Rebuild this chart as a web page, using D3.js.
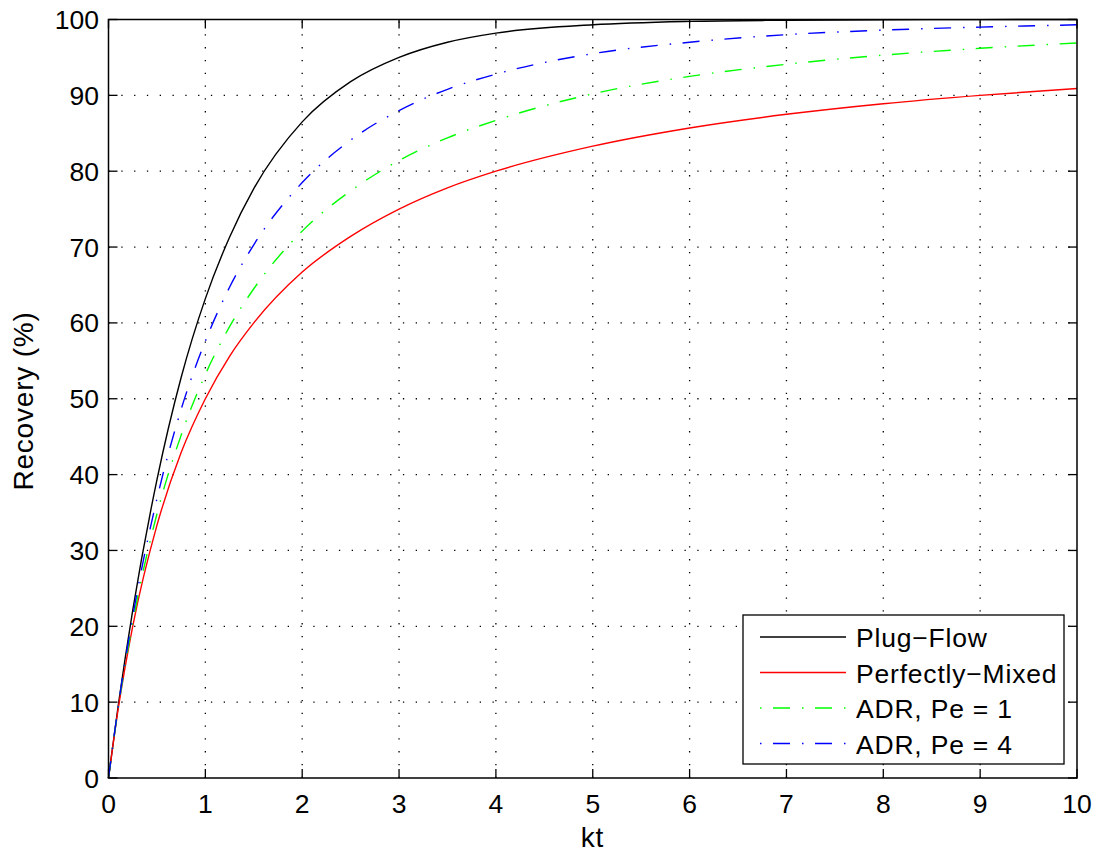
<!DOCTYPE html>
<html>
<head>
<meta charset="utf-8">
<script src="https://cdn.jsdelivr.net/npm/d3@7"></script>
<style>
  body { margin: 0; background: #fff; }
  svg { font-family: "Liberation Sans", Arial, sans-serif; }
  .tick-label { font-size: 26.5px; fill: #000; }
  .axis-label { font-size: 28px; letter-spacing: 0.8px; fill: #000; }
  .legend-label { font-size: 26.5px; letter-spacing: 0.8px; fill: #000; }
</style>
</head>
<body>
<div id="app"></div>
<script>
const kt = [0, 0.1, 0.25, 0.5, 0.75, 1, 1.25, 1.5, 2, 2.5, 3, 3.5, 4, 5, 6, 7, 8, 9, 10]
const plugFlow = [0, 9.5, 22.1, 39.3, 52.8, 63.2, 71.3, 77.7, 86.5, 91.8, 95.0, 97.0, 98.2, 99.3, 99.75, 99.9, 99.97, 99.99, 100]
const perfectlyMixed = [0, 9.1, 20, 33.3, 42.9, 50, 55.6, 60, 66.7, 71.4, 75, 77.8, 80, 83.3, 85.7, 87.5, 88.9, 90, 90.9]
const adrPe1 = [0, 9.2, 20.5, 34.8, 45.2, 53.2, 59.5, 64.5, 72.1, 77.4, 81.4, 84.4, 86.7, 90.2, 92.5, 94.1, 95.3, 96.2, 96.9]
const adrPe4 = [0, 9.4, 21.3, 36.8, 48.6, 57.6, 64.7, 70.3, 78.5, 84.1, 88.0, 90.8, 92.8, 95.5, 97.0, 98.0, 98.6, 99.0, 99.3]
const xTicks = [0, 1, 2, 3, 4, 5, 6, 7, 8, 9, 10]
const yTicks = [0, 10, 20, 30, 40, 50, 60, 70, 80, 90, 100]

const series = [
  { name: 'Plug\u2212Flow', values: plugFlow, color: '#000000', dash: null },
  { name: 'Perfectly\u2212Mixed', values: perfectlyMixed, color: '#ff0000', dash: null },
  { name: 'ADR, Pe = 1', values: adrPe1, color: '#00ff00', dash: '17,12,1.5,11.5' },
  { name: 'ADR, Pe = 4', values: adrPe4, color: '#0000ff', dash: '17,12,1.5,11.5' },
]

const W = 1100, H = 855
const plotLeft = 108.5, plotRight = 1077, plotTop = 19.5, plotBottom = 778

const svg = d3.select('#app').append('svg').attr('width', W).attr('height', H)

const x = d3.scaleLinear().domain([0, 10]).range([plotLeft, plotRight])
const y = d3.scaleLinear().domain([0, 100]).range([plotBottom, plotTop])

// Grid
const grid = svg.append('g').attr('stroke', '#000').attr('stroke-width', 1.3)
  .attr('stroke-dasharray', '1.3,11.5')
grid.selectAll('.gx').data(xTicks.slice(1, -1)).join('line')
  .attr('x1', d => x(d)).attr('x2', d => x(d))
  .attr('y1', plotBottom).attr('y2', plotTop)
grid.selectAll('.gy').data(yTicks.slice(1, -1)).join('line')
  .attr('y1', d => y(d)).attr('y2', d => y(d))
  .attr('x1', plotLeft).attr('x2', plotRight)

// Ticks (inside, all four sides)
const tickLen = 9
const ticks = svg.append('g').attr('stroke', '#000').attr('stroke-width', 1.3)
xTicks.forEach(t => {
  ticks.append('line').attr('x1', x(t)).attr('x2', x(t)).attr('y1', plotBottom).attr('y2', plotBottom - tickLen)
  ticks.append('line').attr('x1', x(t)).attr('x2', x(t)).attr('y1', plotTop).attr('y2', plotTop + tickLen)
})
yTicks.forEach(t => {
  ticks.append('line').attr('y1', y(t)).attr('y2', y(t)).attr('x1', plotLeft).attr('x2', plotLeft + tickLen)
  ticks.append('line').attr('y1', y(t)).attr('y2', y(t)).attr('x1', plotRight).attr('x2', plotRight - tickLen)
})

// Lines
const line = d3.line().curve(d3.curveMonotoneX)
series.forEach(s => {
  svg.append('path')
    .datum(kt.map((k, i) => [x(k), y(s.values[i])]))
    .attr('d', line)
    .attr('fill', 'none')
    .attr('stroke', s.color)
    .attr('stroke-width', 1.4)
    .attr('stroke-dasharray', s.dash)
})

// Box
svg.append('rect').attr('x', plotLeft).attr('y', plotTop)
  .attr('width', plotRight - plotLeft).attr('height', plotBottom - plotTop)
  .attr('fill', 'none').attr('stroke', '#000').attr('stroke-width', 1.5)

// Tick labels
svg.selectAll('.xl').data(xTicks).join('text')
  .attr('class', 'tick-label')
  .attr('x', d => x(d)).attr('y', 813)
  .attr('text-anchor', 'middle')
  .text(d => d)
svg.selectAll('.yl').data(yTicks).join('text')
  .attr('class', 'tick-label')
  .attr('x', 99).attr('y', d => y(d) + 9.5)
  .attr('text-anchor', 'end')
  .text(d => d)

// Axis labels
svg.append('text').attr('class', 'axis-label')
  .attr('x', 592.5).attr('y', 847)
  .attr('text-anchor', 'middle').text('kt')
svg.append('text').attr('class', 'axis-label')
  .attr('transform', 'translate(33,401) rotate(-90)')
  .attr('text-anchor', 'middle').text('Recovery (%)')

// Legend
const lg = svg.append('g')
lg.append('rect').attr('x', 743).attr('y', 615).attr('width', 321).attr('height', 149)
  .attr('fill', '#fff').attr('stroke', '#000').attr('stroke-width', 1.3)
series.forEach((s, i) => {
  const ry = 637 + i * 35.5
  lg.append('line').attr('x1', 760).attr('x2', 846).attr('y1', ry).attr('y2', ry)
    .attr('stroke', s.color).attr('stroke-width', 1.4)
    .attr('stroke-dasharray', s.dash ? '1.5,11.5,17,12' : null)
  lg.append('text').attr('class', 'legend-label')
    .attr('x', 856).attr('y', ry + 10).text(s.name)
})
</script>
</body>
</html>
